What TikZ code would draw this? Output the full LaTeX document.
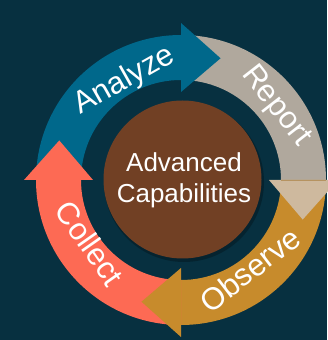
\documentclass[tikz,border=0pt]{standalone}
\usepackage{fontspec}
\setmainfont{Liberation Sans}
\definecolor{bgc}{RGB}{7,48,64}
\definecolor{anac}{RGB}{0,104,139}
\definecolor{repc}{RGB}{176,168,157}
\definecolor{rephead}{RGB}{206,185,158}
\definecolor{obsc}{RGB}{199,139,44}
\definecolor{colc}{RGB}{253,106,84}
\definecolor{brownc}{RGB}{113,64,36}
\tikzset{
  lbl/.style={text=white,font=\fontsize{31}{37}\selectfont,inner sep=0pt},
  ctr/.style={text=white,font=\fontsize{26}{31}\selectfont,align=center,inner sep=0pt}
}
\begin{document}
\begin{tikzpicture}[x=1pt,y=1pt]
\fill[bgc] (0,0) rectangle (327,340);
\useasboundingbox (0,0) rectangle (327,340);
\coordinate (C) at (181,160);
\begin{scope}[shift={(C)}]
% bodies
\fill[anac] (180:145) arc[start angle=180,end angle=90,radius=145] -- (90:100) arc[start angle=90,end angle=180,radius=100] -- cycle;
\fill[repc] (90:145) arc[start angle=90,end angle=0,radius=145] -- (0:100) arc[start angle=0,end angle=90,radius=100] -- cycle;
\fill[obsc] (0:145) arc[start angle=0,end angle=-90,radius=145] -- (-90:100) arc[start angle=-90,end angle=0,radius=100] -- cycle;
\fill[colc] (-90:145) arc[start angle=-90,end angle=-180,radius=145] -- (-180:100) arc[start angle=-180,end angle=-90,radius=100] -- cycle;
% heads
\fill[anac] (90:157) -- (72:128) -- (90:88) -- cycle;
\fill[rephead] (0:157) -- (-18:128) -- (0:88) -- cycle;
\draw[obsc!80!black,line width=0.6pt,opacity=0.5] (0:100) -- (0:145);
\fill[obsc] (-90:157) -- (-108:128) -- (-90:88) -- cycle;
\fill[colc] (180:157) -- (162:128) -- (180:88) -- cycle;
% labels
\node[lbl,rotate=29.5] (ana) at (119.5:114) {Analyze};
\node[lbl,rotate=-52] (rep) at (38:120) {Report};
\node[lbl,rotate=37.5] (obs) at (-52.5:113) {Observe};
\node[lbl,rotate=-55] (col) at (214.7:111) {Collect};
\end{scope}
\fill[black,opacity=0.25] (184,158) circle[radius=80];
\fill[brownc] (182.5,160.5) circle[radius=79];
\node[ctr] (adv) at (184,160) {Advanced\\Capabilities};
\end{tikzpicture}
\end{document}
